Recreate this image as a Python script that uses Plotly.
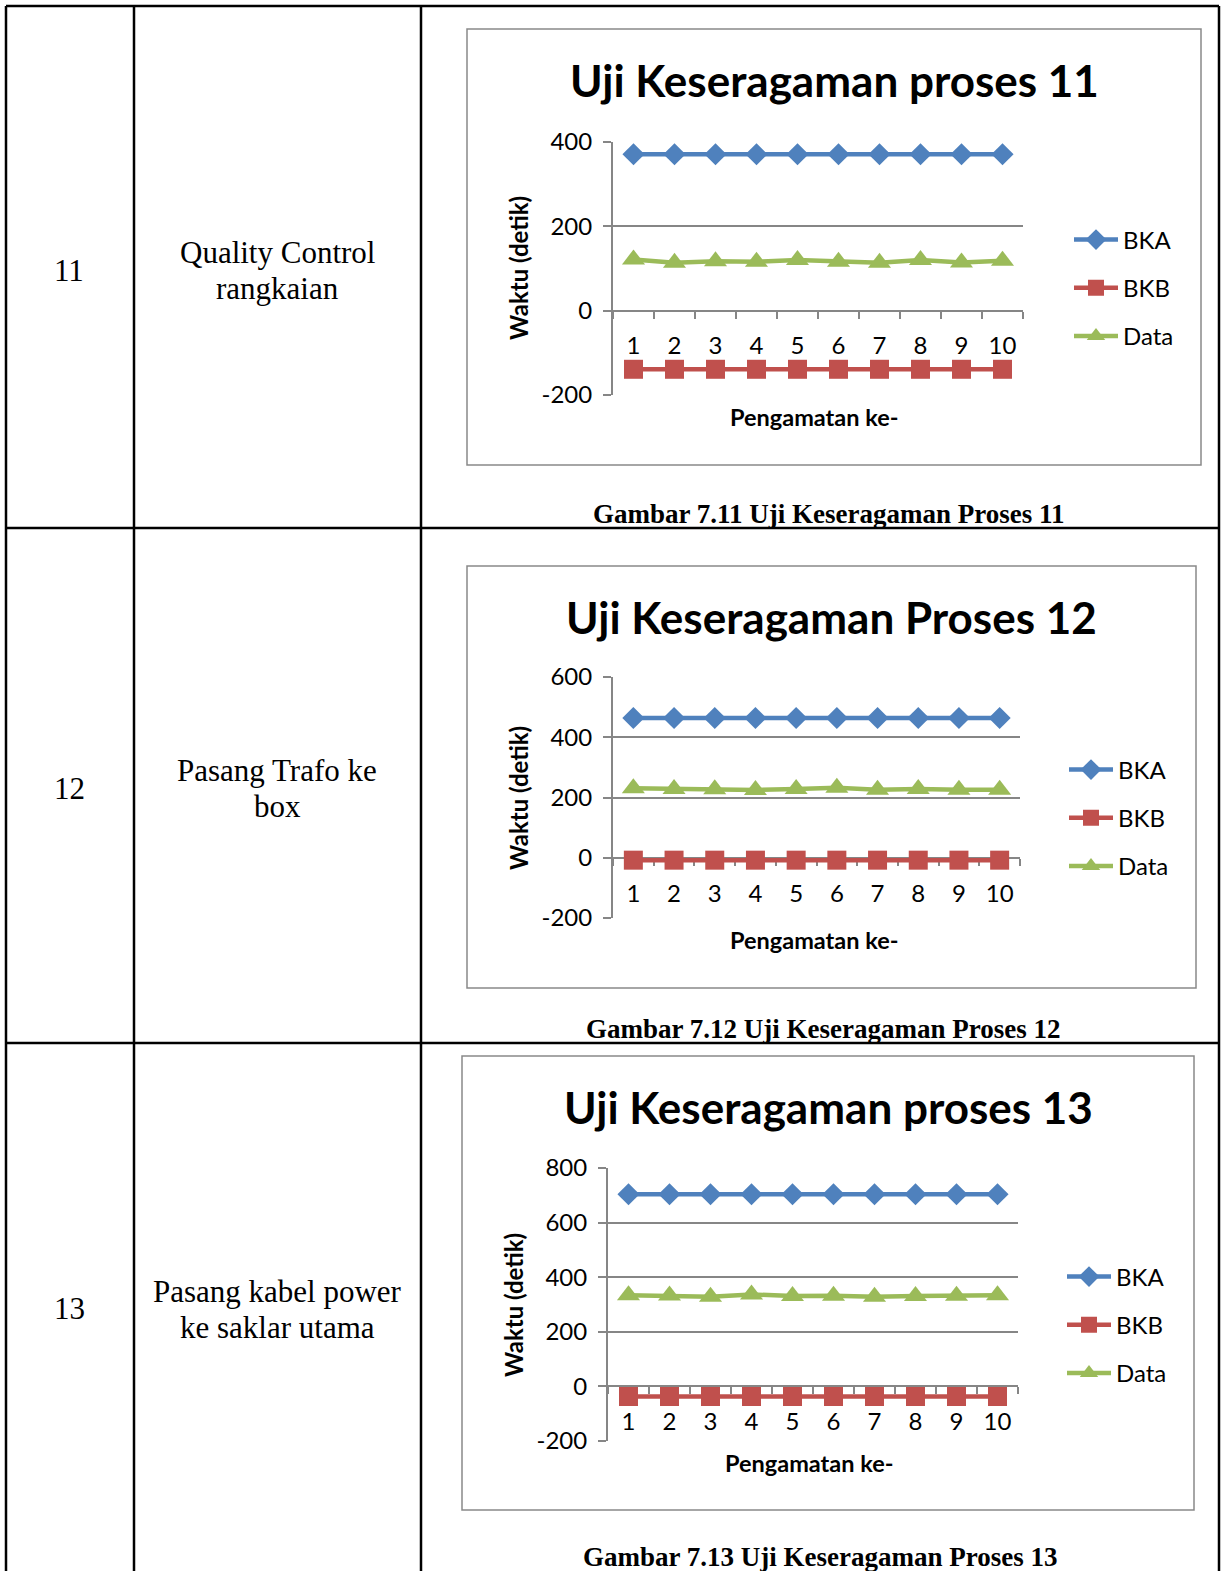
import plotly.graph_objects as go

W, H = 1227, 1571

# ---------------- data ----------------
observations = ["1", "2", "3", "4", "5", "6", "7", "8", "9", "10"]
series_names = ["BKA", "BKB", "Data"]

p11_bka = [371, 371, 371, 371, 371, 371, 371, 371, 371, 371]
p11_bkb = [-139, -139, -139, -139, -139, -139, -139, -139, -139, -139]
p11_data = [121.5, 113.5, 117, 116, 120, 116, 113.5, 120, 114.5, 118.5]

p12_bka = [464, 464, 464, 464, 464, 464, 464, 464, 464, 464]
p12_bkb = [-8, -8, -8, -8, -8, -8, -8, -8, -8, -8]
p12_data = [231, 228.5, 227.5, 225, 228.5, 232, 226, 228.5, 226, 226]

p13_bka = [704, 704, 704, 704, 704, 704, 704, 704, 704, 704]
p13_bkb = [-37, -37, -37, -37, -37, -37, -37, -37, -37, -37]
p13_data = [334, 333, 328, 337, 331, 332, 328, 331, 332, 334]

y_tick_values = [
    [-200, 0, 200, 400],
    [-200, 0, 200, 400, 600],
    [-200, 0, 200, 400, 600, 800],
]
y_tick_labels = [
    ["-200", "0", "200", "400"],
    ["-200", "0", "200", "400", "600"],
    ["-200", "0", "200", "400", "600", "800"],
]
y_ranges = [(-200, 400), (-200, 600), (-200, 800)]

row_numbers = ["11", "12", "13"]
row_descriptions = [
    ["Quality Control", "rangkaian"],
    ["Pasang Trafo ke", "box"],
    ["Pasang kabel power", "ke saklar utama"],
]
chart_titles = ["Uji Keseragaman proses 11", "Uji Keseragaman Proses 12",
                "Uji Keseragaman proses 13"]
captions = ["Gambar 7.11 Uji Keseragaman Proses 11",
            "Gambar 7.12 Uji Keseragaman Proses 12",
            "Gambar 7.13 Uji Keseragaman Proses 13"]
y_title = "Waktu (detik)"
x_title = "Pengamatan ke-"

series_data = [
    (p11_bka, p11_bkb, p11_data),
    (p12_bka, p12_bkb, p12_data),
    (p13_bka, p13_bkb, p13_data),
]

# ---------------- page geometry (pixels) ----------------
def fx(px):
    return px / W


def fy(py):
    return 1 - py / H


panels = [
    dict(frame=(467, 29, 1201, 465), plot=(613, 142, 1023, 395), title_xy=(834, 80),
         ytitle_xy=(518, 268), xtitle_xy=(814, 417), legend_xy=(1069, 288),
         caption_xy=(829, 514), row_mid=270, desc_lines=(252, 288)),
    dict(frame=(467, 566, 1196, 988), plot=(613, 677, 1020, 918), title_xy=(831, 617),
         ytitle_xy=(518, 798), xtitle_xy=(814, 940), legend_xy=(1064, 818),
         caption_xy=(823, 1029), row_mid=788, desc_lines=(770, 806)),
    dict(frame=(462, 1056, 1194, 1510), plot=(608, 1168, 1018, 1441), title_xy=(828, 1107),
         ytitle_xy=(513, 1305), xtitle_xy=(809, 1463), legend_xy=(1062, 1325),
         caption_xy=(820, 1557), row_mid=1308, desc_lines=(1291, 1327)),
]

colors = ["#4F81BD", "#C0504D", "#9BBB59"]
symbols = ["diamond", "square", "triangle-up"]
msizes = [17, 19, 20]
GRID = "#868686"
SANS = "Lato, Carlito, Calibri, sans-serif"
SERIF = "Liberation Serif, Times New Roman, serif"

fig = go.Figure()
layout = dict(width=W, height=H,
              margin=dict(l=0, r=0, t=0, b=0, pad=0, autoexpand=False),
              paper_bgcolor="white", plot_bgcolor="rgba(0,0,0,0)", showlegend=True)
annotations = []
shapes = []


def text_note(text, px, py, size, family, angle=0):
    return dict(text=text, x=fx(px), y=fy(py), xref="paper", yref="paper",
                showarrow=False, xanchor="center", yanchor="middle", textangle=angle,
                font=dict(family=family, size=size, color="black"))


for k, (panel, values) in enumerate(zip(panels, series_data)):
    sfx = "" if k == 0 else str(k + 1)
    xref, yref = "x" + sfx, "y" + sfx
    legend_id = "legend" + sfx
    for i, name in enumerate(series_names):
        fig.add_trace(go.Scatter(
            x=observations, y=values[i], name=name, mode="lines+markers",
            xaxis=xref, yaxis=yref, legend=legend_id, legendgroup=f"{k}-{name}",
            line=dict(color=colors[i], width=4.5),
            marker=dict(symbol=symbols[i], size=msizes[i], color=colors[i]),
            hoverinfo="skip"))

    l, t, r, b = panel["plot"]
    ymin, ymax = y_ranges[k]
    ydom = [fy(b), fy(t)]
    zero_pos = ydom[0] + (0 - ymin) / (ymax - ymin) * (ydom[1] - ydom[0])

    layout["xaxis" + sfx] = dict(
        type="category", domain=[fx(l), fx(r)], anchor="free", position=zero_pos,
        range=[-0.5, 9.5], showline=True, linecolor=GRID, linewidth=2,
        ticks="outside", tickson="boundaries", ticklen=7, tickwidth=2, tickcolor=GRID,
        showgrid=False, zeroline=False, layer="below traces",
        tickfont=dict(family=SANS, size=24, color="black"), ticklabelstandoff=14,
        fixedrange=True)
    layout["yaxis" + sfx] = dict(
        domain=ydom, anchor=xref, range=[ymin, ymax],
        tickmode="array", tickvals=y_tick_values[k], ticktext=y_tick_labels[k],
        showgrid=True, gridcolor=GRID, gridwidth=2, showline=True, linecolor=GRID,
        linewidth=2, ticks="outside", ticklen=8, tickwidth=2, tickcolor=GRID,
        zeroline=False, layer="below traces",
        tickfont=dict(family=SANS, size=24, color="black"), ticklabelstandoff=6,
        fixedrange=True)

    lx, ly = panel["legend_xy"]
    layout[legend_id] = dict(
        x=fx(lx), y=fy(ly), xanchor="left", yanchor="middle",
        font=dict(family=SANS, size=24, color="black"), bgcolor="rgba(0,0,0,0)",
        tracegroupgap=14, itemwidth=44)

    # chart frame
    fl, ft, fr, fb = panel["frame"]
    shapes.append(dict(type="rect", xref="paper", yref="paper",
                       x0=fx(fl), x1=fx(fr), y0=fy(fb), y1=fy(ft),
                       line=dict(color="#898989", width=1.5), layer="below"))

    tx, ty = panel["title_xy"]
    annotations.append(text_note(f"<b>{chart_titles[k]}</b>", tx, ty, 44, SANS))
    yx, yy = panel["ytitle_xy"]
    annotations.append(text_note(f"<b>{y_title}</b>", yx, yy, 24, SANS, angle=-90))
    xx, xy = panel["xtitle_xy"]
    annotations.append(text_note(f"<b>{x_title}</b>", xx, xy, 23.5, SANS))
    cx, cy = panel["caption_xy"]
    annotations.append(text_note(f"<b>{captions[k]}</b>", cx, cy, 27, SERIF))
    annotations.append(text_note(row_numbers[k], 69, panel["row_mid"], 31, SERIF))
    for line_text, line_y in zip(row_descriptions[k], panel["desc_lines"]):
        annotations.append(text_note(line_text, 277, line_y, 31, SERIF))

# table rules
TABLE = dict(color="black", width=2.5)
for xv in (6, 134, 421, 1219):
    shapes.append(dict(type="line", xref="paper", yref="paper",
                       x0=fx(xv), x1=fx(xv), y0=fy(6), y1=0, line=TABLE))
for yv in (6, 528, 1043):
    shapes.append(dict(type="line", xref="paper", yref="paper",
                       x0=fx(6), x1=fx(1219), y0=fy(yv), y1=fy(yv), line=TABLE))

layout["annotations"] = annotations
layout["shapes"] = shapes
fig.update_layout(**layout)

fig.write_html("out.html")
